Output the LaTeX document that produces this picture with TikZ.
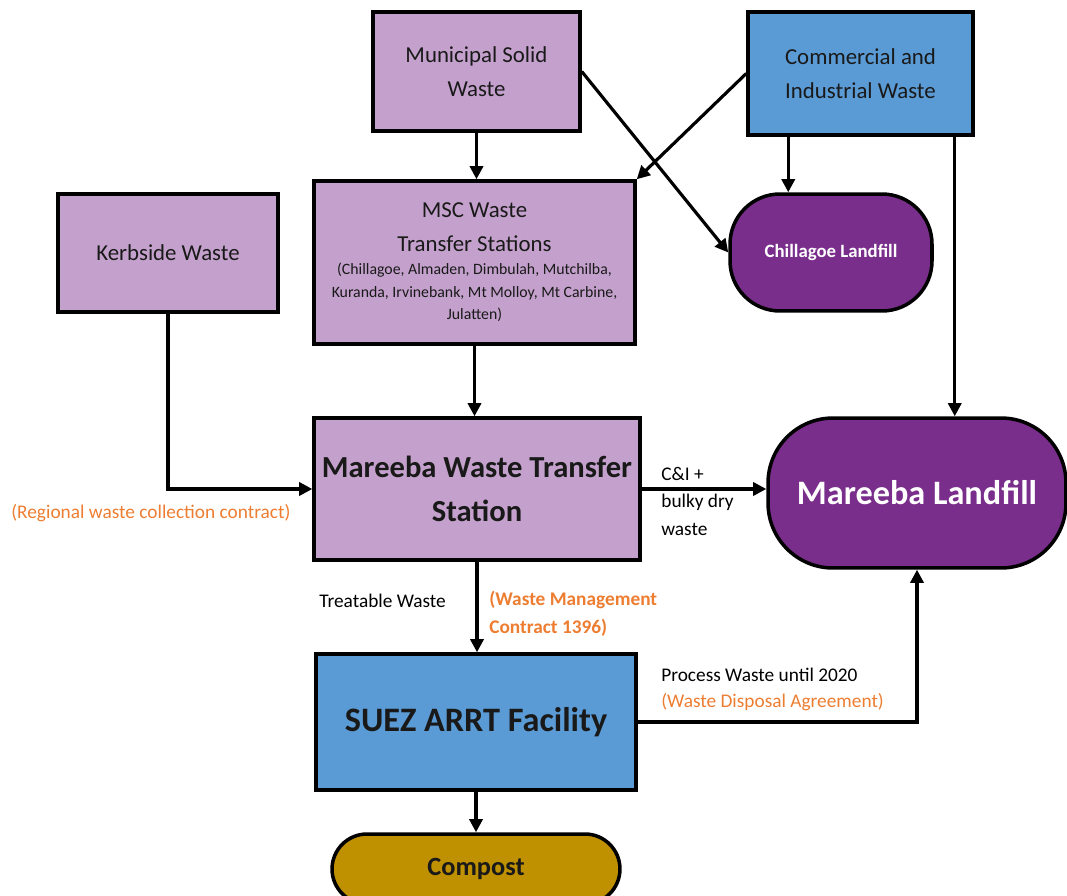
\documentclass[tikz,border=0pt]{standalone}
\usepackage{fontspec}
\setmainfont{Carlito}
\usepackage{tikz}
\usetikzlibrary{arrows.meta}
\usetikzlibrary{positioning}
\usetikzlibrary{calc}
\definecolor{lilas}{RGB}{196,161,204}
\definecolor{azul}{RGB}{91,155,213}
\definecolor{roxo}{RGB}{122,46,140}
\definecolor{ouro}{RGB}{191,144,0}
\definecolor{laranja}{RGB}{237,125,49}
\tikzstyle{flow}=[->,>={Triangle[length=7.5pt,width=7.5pt]},line width=1.8pt,color=black]
\newcommand{\miudo}{\fontsize{9}{12.8}\selectfont}

\begin{document}
\begin{tikzpicture}[x=0.02cm,y=-0.02cm]
    % caixas com borda grossa
    \tikzstyle{box}=[draw,line width=2pt,inner sep=2pt,align=center,text=black!90]
    \tikzstyle{lbox}=[box,fill=lilas,font=\fontsize{13}{19.3}\selectfont]
    \tikzstyle{bbox}=[box,fill=azul]
    \tikzstyle{landfill}=[box,fill=roxo,text=white]
    \tikzstyle{lbl}=[font=\fontsize{11}{15.6}\selectfont,align=left,inner sep=0pt]
    \tikzstyle{note}=[lbl,text=laranja]

    \clip (0,0) rectangle (1067,895);

    \node[lbox,minimum width=4.14cm,minimum height=2.38cm] (msw) at (476.5,71.5) {Municipal Solid\\Waste};
    \node[bbox,font=\fontsize{13}{19.3}\selectfont,minimum width=4.5cm,minimum height=2.46cm] (cni) at (860.5,73.5) {Commercial and\\Industrial Waste};
    \node[lbox,minimum width=4.4cm,minimum height=2.36cm] (kerb) at (168,253) {Kerbside Waste};
    \node[lbox,minimum width=6.42cm,minimum height=3.26cm] (msc) at (474.5,262.5) {MSC Waste\\Transfer Stations\\[-6.3pt]\miudo (Chillagoe, Almaden, Dimbulah, Mutchilba,\\[-6.5pt]\miudo Kuranda, Irvinebank, Mt Molloy, Mt Carbine,\\[-6.5pt]\miudo Julatten)};
    \node[landfill,font=\fontsize{10.7}{12}\selectfont\bfseries,minimum width=4.04cm,minimum height=2.34cm,rounded corners=1cm] (chill) at (831,252.5) {Chillagoe Landfill};

    % estacao de transferencia e aterro
    \node[lbox,font=\fontsize{17.4}{25}\selectfont\bfseries,minimum width=6.52cm,minimum height=2.84cm] (mwts) at (477,489) {Mareeba Waste Transfer\\Station};
    \node[landfill,font=\fontsize{19.5}{22}\selectfont\bfseries,minimum width=5.96cm,minimum height=3cm,rounded corners=1.3cm] (mland) at (917,493) {Mareeba Landfill};
    \node[bbox,font=\fontsize{19.5}{22}\selectfont\bfseries,minimum width=6.4cm,minimum height=2.72cm] (suez) at (476,722) {SUEZ ARRT Facility};
    \node[box,fill=ouro,font=\fontsize{15}{17}\selectfont\bfseries,minimum width=5.76cm,minimum height=1.4cm,rounded corners=0.7cm] (compost) at (476,869) {Compost};

    \draw[flow] (msw.south) -- (msw.south |- msc.north);
    \draw[flow] (msw.east) -- (chill.west);
    \draw[flow] (cni.west) -- (msc.north east);
    \draw[flow] ([xshift=0.84cm]cni.south west) -- ([xshift=0.84cm]cni.south west |- chill.north);
    \draw[flow] ([xshift=-0.4cm]cni.south east) -- ([xshift=-0.4cm]cni.south east |- mland.north);
    \draw[flow] (kerb.south) |- (mwts.west);
    \draw[flow] (msc.south) -- (msc.south |- mwts.north);
    \draw[flow] (mwts.east) -- (mwts.east -| mland.west);
    \draw[flow] (mwts.south) -- (mwts.south |- suez.north);
    \draw[flow] (suez.east) -| (mland.south);
    \draw[flow] (suez.south) -- (compost.north);

    % rotulos
    \node[note,anchor=west] (regional) at (11,513) {(Regional waste collection contract)};
    \node[lbl,anchor=north west] (bulky) at (661,467) {C\&I +\\bulky dry\\waste};
    \node[lbl,anchor=west] (treat) at (319,601) {Treatable Waste};
    \node[note,font=\fontsize{11}{15.6}\selectfont\bfseries,anchor=north west] (wmc) at (489,591) {(Waste Management\\Contract 1396)};
    \node[lbl,anchor=north west,font=\fontsize{11}{14.7}\selectfont] (process) at (661,668) {Process Waste until 2020\\\textcolor{laranja}{(Waste Disposal Agreement)}};
\end{tikzpicture}
\end{document}
